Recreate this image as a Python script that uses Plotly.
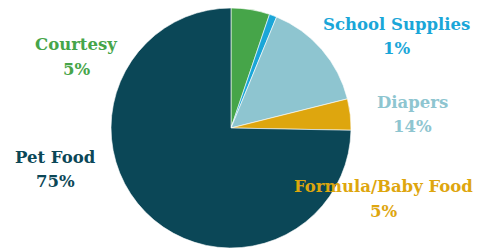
import plotly.graph_objects as go

labels = ["Courtesy", "School Supplies", "Diapers", "Formula/Baby Food", "Pet Food"]
values = [5.2, 1.0, 14.9, 4.2, 74.7]          # slice sizes
percent_labels = ["5%", "1%", "14%", "5%", "75%"]  # percentages as printed in the chart
colors = ["#46a549", "#1aa6d8", "#8ec5d0", "#dea60e", "#0b4757"]

# label anchor positions in pixels (x center, name line center y, percent line center y)
W, H = 477, 248
label_pos = {
    "Courtesy": (76, 44, 69),
    "School Supplies": (396, 24, 48),
    "Diapers": (412, 102, 126),
    "Formula/Baby Food": (383, 186, 211),
    "Pet Food": (55, 157, 181),
}

fig = go.Figure(go.Pie(
    labels=labels, values=values, sort=False, direction="clockwise", rotation=0,
    marker=dict(colors=colors, line=dict(color="white", width=0.6)),
    textinfo="none", hoverinfo="label+percent",
    domain=dict(x=[111 / W, 351 / W], y=[0, 240 / H]),
    showlegend=False,
))

font_family = "DejaVu Serif"
annotations = []
for lab, pct, col in zip(labels, percent_labels, colors):
    x, y1, y2 = label_pos[lab]
    for txt, yy in ((lab, y1), (pct, y2)):
        annotations.append(dict(
            x=x / W, y=1 - yy / H, xref="paper", yref="paper",
            text=f"<b>{txt}</b>", showarrow=False, xanchor="center", yanchor="middle",
            font=dict(family=font_family, size=16.5, color=col),
        ))

fig.update_layout(
    width=W, height=H, margin=dict(l=0, r=0, t=0, b=0),
    paper_bgcolor="white", plot_bgcolor="white",
    annotations=annotations,
)
fig.write_html(
    "out.html",
    config={"displayModeBar": False},
    post_script="document.body.style.margin='0';document.body.style.overflow='hidden';",
)
